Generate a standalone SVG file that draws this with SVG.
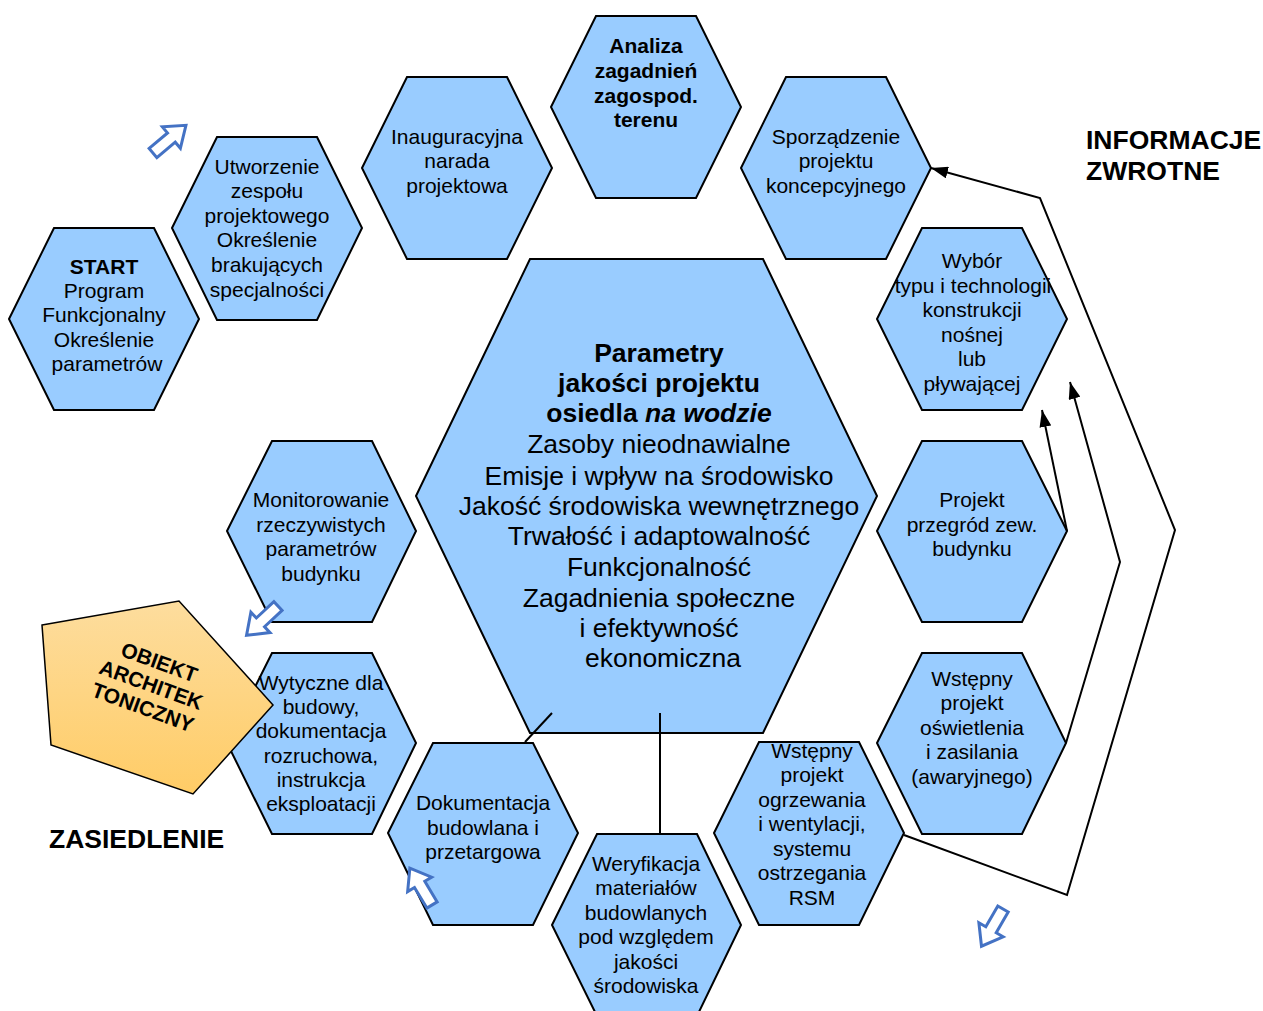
<svg xmlns="http://www.w3.org/2000/svg" xmlns:xlink="http://www.w3.org/1999/xlink" width="1263" height="1011" viewBox="0 0 1263 1011">
<style>
.hex{fill:#99CCFF;stroke:#000;stroke-width:2}
.t{font-family:"Liberation Sans",Arial,sans-serif;font-size:21px;text-anchor:middle;fill:#000}
.b{font-weight:bold}
.c{font-size:26.5px}
.lbl{font-family:"Liberation Sans",Arial,sans-serif;font-size:26.5px;font-weight:bold;fill:#000}
.con{fill:none;stroke:#000;stroke-width:2}
.barrow{fill:#fff;stroke:#4472C4;stroke-width:3;stroke-linejoin:miter}
</style>
<defs>
<marker id="ah" markerUnits="userSpaceOnUse" markerWidth="18" markerHeight="12" refX="17" refY="6" orient="auto">
<path d="M0,0 L17,6 L0,12 Z" fill="#000"/>
</marker>
<path id="ba" d="M0,-6 H24 V-14 L43,0 L24,14 V6 H0 Z"/>
<linearGradient id="pg" x1="0" y1="0" x2="0" y2="1">
<stop offset="0" stop-color="#FDDD9E"/>
<stop offset="1" stop-color="#FFCC66"/>
</linearGradient>
</defs>

<g id="n-start">
<polygon class="hex" points="9,319 54,228 154,228 199,319 154,410 54,410"/>
<text class="t"><tspan class="b" x="104" y="274">START</tspan><tspan x="104" y="298">Program</tspan><tspan x="104" y="322">Funkcjonalny</tspan><tspan x="104" y="347">Określenie</tspan><tspan x="107" y="371">parametrów</tspan></text>
</g>
<g id="n-utworzenie">
<polygon class="hex" points="172,228 217,137 317,137 362,228 317,320 217,320"/>
<text class="t"><tspan x="267" y="174">Utworzenie</tspan><tspan x="267" y="198">zespołu</tspan><tspan x="267" y="223">projektowego</tspan><tspan x="267" y="247">Określenie</tspan><tspan x="267" y="272">brakujących</tspan><tspan x="267" y="297">specjalności</tspan></text>
</g>
<g id="n-inauguracyjna">
<polygon class="hex" points="362,168 407,77 507,77 552,168 507,259 407,259"/>
<text class="t"><tspan x="457" y="144">Inauguracyjna</tspan><tspan x="457" y="168">narada</tspan><tspan x="457" y="193">projektowa</tspan></text>
</g>
<g id="n-analiza">
<polygon class="hex" points="551,107 596,16 696,16 741,107 696,198 596,198"/>
<text class="t b"><tspan x="646" y="53">Analiza</tspan><tspan x="646" y="78">zagadnień</tspan><tspan x="646" y="103">zagospod.</tspan><tspan x="646" y="127">terenu</tspan></text>
</g>
<g id="n-sporzadzenie">
<polygon class="hex" points="741,168 786,77 886,77 931,168 886,259 786,259"/>
<text class="t"><tspan x="836" y="144">Sporządzenie</tspan><tspan x="836" y="168">projektu</tspan><tspan x="836" y="193">koncepcyjnego</tspan></text>
</g>
<g id="n-wybor">
<polygon class="hex" points="877,319 922,228 1022,228 1067,319 1022,410 922,410"/>
<text class="t"><tspan x="972" y="268">Wybór</tspan><tspan x="973" y="293">typu i technologii</tspan><tspan x="972" y="317">konstrukcji</tspan><tspan x="972" y="342">nośnej</tspan><tspan x="972" y="366">lub</tspan><tspan x="972" y="391">pływającej</tspan></text>
</g>
<g id="n-przegrody">
<polygon class="hex" points="877,531 922,441 1022,441 1067,531 1022,622 922,622"/>
<text class="t"><tspan x="972" y="507">Projekt</tspan><tspan x="972" y="532">przegród zew.</tspan><tspan x="972" y="556">budynku</tspan></text>
</g>
<g id="n-oswietlenie">
<polygon class="hex" points="877,743 922,653 1022,653 1066,743 1022,834 922,834"/>
<text class="t"><tspan x="972" y="686">Wstępny</tspan><tspan x="972" y="710">projekt</tspan><tspan x="972" y="735">oświetlenia</tspan><tspan x="972" y="759">i zasilania</tspan><tspan x="972" y="784">(awaryjnego)</tspan></text>
</g>
<g id="n-ogrzewanie">
<polygon class="hex" points="714,833 759,742 859,742 904,833 859,925 759,925"/>
<text class="t"><tspan x="812" y="758">Wstępny</tspan><tspan x="812" y="782">projekt</tspan><tspan x="812" y="807">ogrzewania</tspan><tspan x="812" y="831">i wentylacji,</tspan><tspan x="812" y="856">systemu</tspan><tspan x="812" y="880">ostrzegania</tspan><tspan x="812" y="905">RSM</tspan></text>
</g>
<g id="n-weryfikacja">
<polygon class="hex" points="552,925 597,834 697,834 741,925 697,1016 597,1016"/>
<text class="t"><tspan x="646" y="871">Weryfikacja</tspan><tspan x="646" y="895">materiałów</tspan><tspan x="646" y="920">budowlanych</tspan><tspan x="646" y="944">pod względem</tspan><tspan x="646" y="969">jakości</tspan><tspan x="646" y="993">środowiska</tspan></text>
</g>
<g id="n-dokumentacja">
<polygon class="hex" points="388,833 433,743 533,743 578,833 533,925 433,925"/>
<text class="t"><tspan x="483" y="810">Dokumentacja</tspan><tspan x="483" y="835">budowlana i</tspan><tspan x="483" y="859">przetargowa</tspan></text>
</g>
<g id="n-wytyczne">
<polygon class="hex" points="227,743 272,653 372,653 416,743 372,834 272,834"/>
</g>
<g id="n-monitorowanie">
<polygon class="hex" points="227,531 272,441 372,441 416,531 372,622 272,622"/>
<text class="t"><tspan x="321" y="507">Monitorowanie</tspan><tspan x="321" y="532">rzeczywistych</tspan><tspan x="321" y="556">parametrów</tspan><tspan x="321" y="581">budynku</tspan></text>
</g>
<g id="n-parametry">
<polygon class="hex" points="416,496 530,259 763,259 877,496 763,733 530,733"/>
<text class="t c"><tspan class="b" x="659" y="362">Parametry</tspan><tspan class="b" x="659" y="392">jakości projektu</tspan><tspan class="b" x="659" y="422">osiedla <tspan font-style="italic">na wodzie</tspan></tspan><tspan x="659" y="453">Zasoby nieodnawialne</tspan><tspan x="659" y="485">Emisje i wpływ na środowisko</tspan><tspan x="659" y="515">Jakość środowiska wewnętrznego</tspan><tspan x="659" y="545">Trwałość i adaptowalność</tspan><tspan x="659" y="576">Funkcjonalność</tspan><tspan x="659" y="607">Zagadnienia społeczne</tspan><tspan x="659" y="637">i efektywność</tspan><tspan x="663" y="667">ekonomiczna</tspan></text>
</g>
<g id="n-obiekt">
<polygon points="42,625 179,601 273,705 193,794 51,745" fill="url(#pg)" stroke="#000" stroke-width="1.5"/>
<g transform="translate(151,685) rotate(20)">
<text class="t b"><tspan x="0" y="-17">OBIEKT</tspan><tspan x="0" y="7">ARCHITEK</tspan><tspan x="0" y="31">TONICZNY</tspan></text>
</g>
</g>
<g id="n-wytyczne-label">
<text class="t"><tspan x="321" y="690">Wytyczne dla</tspan><tspan x="321" y="714">budowy,</tspan><tspan x="321" y="738">dokumentacja</tspan><tspan x="321" y="763">rozruchowa,</tspan><tspan x="321" y="787">instrukcja</tspan><tspan x="321" y="811">eksploatacji</tspan></text>
</g>

<g id="connectors">
<line class="con" x1="552" y1="713" x2="525" y2="742"/>
<line class="con" x1="660" y1="713" x2="660" y2="834"/>
<polyline class="con" points="904,835 1067,895 1175,530 1040,198 931,168" marker-end="url(#ah)"/>
<polyline class="con" points="1066,743 1120,562 1070,382" marker-end="url(#ah)"/>
<line class="con" x1="1067" y1="531" x2="1042" y2="410" marker-end="url(#ah)"/>
</g>

<g id="block-arrows">
<use href="#ba" class="barrow" transform="translate(153,153) rotate(-40)"/>
<use href="#ba" class="barrow" transform="translate(278,606) rotate(137)"/>
<use href="#ba" class="barrow" transform="translate(432,905) rotate(-121)"/>
<use href="#ba" class="barrow" transform="translate(1003,909) rotate(120)"/>
</g>

<g id="labels">
<text class="lbl" x="1086" y="149">INFORMACJE</text>
<text class="lbl" x="1086" y="180">ZWROTNE</text>
<text class="lbl" x="49" y="848">ZASIEDLENIE</text>
</g>
</svg>
